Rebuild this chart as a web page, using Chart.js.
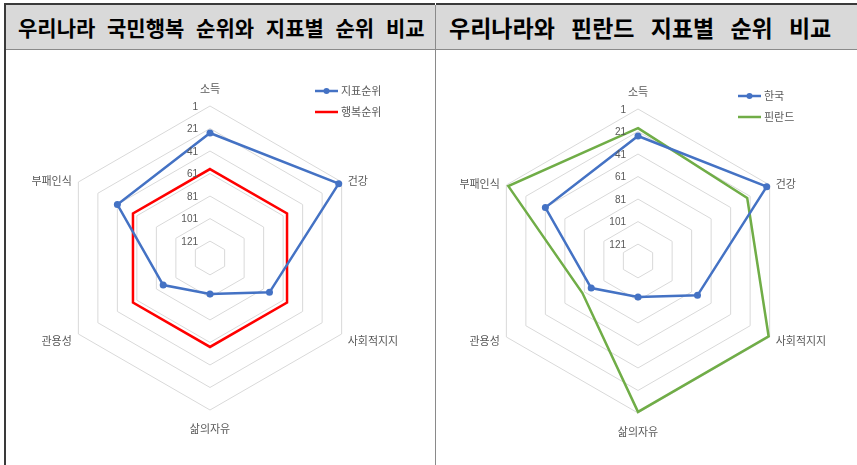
<!DOCTYPE html>
<html>
<head>
<meta charset="utf-8">
<script src="https://cdn.jsdelivr.net/npm/chart.js"></script>
<style>
    body { margin: 0; background: #fff; width: 857px; height: 465px; overflow: hidden; position: relative; font-family: "Noto Sans CJK KR", sans-serif; }
    .hd { position: absolute; top: 3px; height: 44px; line-height: 44px; background: #d9d9d9; border-top: 2px solid #3a3a3a; border-bottom: 1px solid #8a8a8a; font-weight: bold; color: #000; white-space: nowrap; box-sizing: content-box; }
    #h1 { left: 4px; width: 417px; padding-left: 14px; font-size: 21px; word-spacing: 7px; }
    #h2 { left: 436px; width: 408px; padding-left: 13px; font-size: 23px; word-spacing: 11px; }
    #lb { position: absolute; left: 4px; top: 3px; width: 2px; height: 470px; background: #3a3a3a; }
    #dv { position: absolute; left: 435px; top: 5px; width: 1px; height: 470px; background: #8a8a8a; }
    #c1 { position: absolute; left: 5px; top: 50px; }
    #c2 { position: absolute; left: 436px; top: 50px; }
</style>
</head>
<body>
<div class="hd" id="h1">우리나라 국민행복 순위와 지표별 순위 비교</div>
<div class="hd" id="h2">우리나라와 핀란드 지표별 순위 비교</div>
<canvas id="c1" width="430" height="415"></canvas>
<canvas id="c2" width="421" height="415"></canvas>
<div id="lb"></div>
<div id="dv"></div>
<script>
    // 지표 (축 라벨)
    var labels = ['소득', '건강', '사회적지지', '삶의자유', '관용성', '부패인식']
    // 순위 데이터
    var koreaRank = [25, 4, 75, 104, 88, 41]
    var happyRank = [57, 57, 57, 57, 57, 57]
    var finlandRank = [18, 24, 2, 2, 79, 3]
    // 눈금
    var tickValues = [1, 21, 41, 61, 81, 101, 121]
    var axisMax = 136

    var blue = '#4472C4'
    var red = '#FF0000'
    var green = '#70AD47'

    function decoPlugin(lx, ly, lowShift) {
        return {
            id: 'deco',
            afterDraw: function(chart) {
                var ctx = chart.ctx
                var r = chart.scales.r
                ctx.save()
                // 눈금 라벨 (축 왼쪽)
                ctx.font = '10px "Liberation Sans", sans-serif'
                ctx.fillStyle = '#595959'
                ctx.textAlign = 'right'
                ctx.textBaseline = 'middle'
                tickValues.forEach(function(v) {
                    ctx.fillText(String(v), r.xCenter - 12, r.yCenter - r.getDistanceFromCenterForValue(v) + 1)
                })
                // 축 라벨
                ctx.font = '11px "Noto Sans CJK KR", sans-serif'
                labels.forEach(function(lab, i) {
                    var p = r.getPointPosition(i, r.drawingArea)
                    var x = p.x, y = p.y
                    if (i == 0) { ctx.textAlign = 'center'; y -= 17 }
                    else if (i == 3) { ctx.textAlign = 'center'; y += 19 }
                    else if (i < 3) { ctx.textAlign = 'left'; x += 6; y += (i == 2 ? lowShift : -1) }
                    else { ctx.textAlign = 'right'; x -= 6.5; y += (i == 4 ? lowShift : -1) }
                    ctx.fillText(lab, x, y)
                })
                // 범례
                chart.data.datasets.forEach(function(ds, k) {
                    var y = ly + k * 21
                    ctx.strokeStyle = ds.borderColor
                    ctx.lineWidth = ds.borderWidth
                    ctx.beginPath()
                    ctx.moveTo(lx, y)
                    ctx.lineTo(lx + 23, y)
                    ctx.stroke()
                    if (ds.pointRadius) {
                        ctx.fillStyle = ds.borderColor
                        ctx.beginPath()
                        ctx.arc(lx + 11.5, y, 3, 0, Math.PI * 2)
                        ctx.fill()
                    }
                    ctx.fillStyle = '#595959'
                    ctx.textAlign = 'left'
                    ctx.fillText(ds.label, lx + 26, y)
                })
                ctx.restore()
            }
        }
    }

    function radarOptions(pad) {
        return {
            responsive: false,
            animation: false,
            layout: { padding: pad },
            plugins: { legend: { display: false }, tooltip: { enabled: false } },
            elements: { line: { tension: 0 } },
            scales: {
                r: {
                    reverse: true,
                    min: 1,
                    max: axisMax,
                    angleLines: { display: false },
                    grid: { color: '#D9D9D9', lineWidth: 1 },
                    pointLabels: { display: false },
                    ticks: { display: false },
                    afterBuildTicks: function(scale) {
                        var vals = [axisMax].concat(tickValues.slice().reverse())
                        scale.ticks = vals.map(function(v) { return { value: v } })
                    }
                }
            }
        }
    }

    var ctx1 = document.getElementById('c1').getContext('2d')
    var chart1 = new Chart(ctx1, {
        type: 'radar',
        data: {
            labels: labels,
            datasets: [{
                label: '지표순위',
                data: koreaRank,
                fill: false,
                borderColor: blue,
                backgroundColor: blue,
                borderWidth: 2.5,
                pointRadius: 3.5,
                pointBackgroundColor: blue,
                pointBorderWidth: 0
            }, {
                label: '행복순위',
                data: happyRank,
                fill: false,
                borderColor: red,
                backgroundColor: red,
                borderWidth: 2.5,
                pointRadius: 0
            }]
        },
        options: radarOptions({ left: 53, top: 56, right: 73, bottom: 55 }),
        plugins: [decoPlugin(310, 41, 7)]
    })

    var ctx2 = document.getElementById('c2').getContext('2d')
    var chart2 = new Chart(ctx2, {
        type: 'radar',
        data: {
            labels: labels,
            datasets: [{
                label: '한국',
                data: koreaRank,
                fill: false,
                borderColor: blue,
                backgroundColor: blue,
                borderWidth: 2.5,
                pointRadius: 3.5,
                pointBackgroundColor: blue,
                pointBorderWidth: 0
            }, {
                label: '핀란드',
                data: finlandRank,
                fill: false,
                borderColor: green,
                backgroundColor: green,
                borderWidth: 2.5,
                pointRadius: 0
            }]
        },
        options: radarOptions({ left: 50, top: 59, right: 67, bottom: 52 }),
        plugins: [decoPlugin(302, 46, 4)]
    })
</script>
</body>
</html>
